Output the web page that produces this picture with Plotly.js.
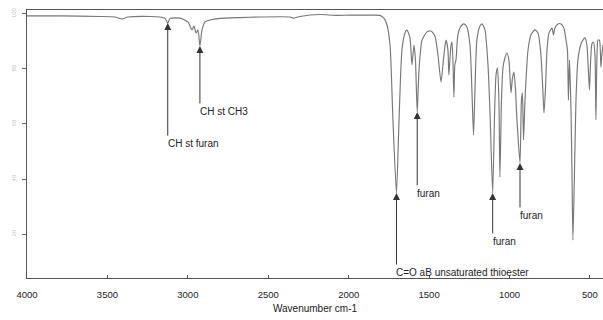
<!DOCTYPE html>
<html>
<head>
<meta charset="utf-8">
<script src="https://cdn.plot.ly/plotly-3.0.1.min.js"></script>
<style>html,body{margin:0;padding:0;background:#fff;}#chart{width:603px;height:320px;}</style>
</head>
<body>
<div id="chart"></div>
<script>
// Wavenumber (cm-1) and transmittance (%T)
const wavenumber = [4000,3795,3546,3453,3409,3372,3235,3173,3142,3125,3111,3049,3000,2974,2962,2949,2937,2925,2912,2893,2862,2800,2676,2552,2365,2346,2303,2179,2085,1992,1868,1806,1781,1762,1743,1725,1703,1687,1669,1650,1638,1619,1607,1594,1585,1574,1563,1544,1513,1488,1464,1445,1426,1408,1395,1383,1377,1364,1358,1352,1346,1340,1333,1321,1302,1283,1265,1246,1234,1224,1215,1203,1184,1171,1153,1134,1122,1105,1094,1084,1075,1066,1060,1050,1041,1029,1016,1004,991,982,973,963,954,935,926,920,913,904,885,867,842,823,805,793,786,777,767,755,736,727,718,699,680,662,649,640,634,627,618,612,606,596,587,575,556,544,531,519,510,503,497,488,478,469,463,457,450,441,432,426,419];
const transmittance = [99.3,99.3,99.1,98.9,98.2,98.9,99.1,98.9,98.4,96.7,98.4,98.5,97.1,94.2,95.6,93.1,94.2,88.4,94.2,97.1,97.8,98.4,98.7,98.9,98.9,98.5,99.1,99.8,99.5,99.6,99.6,99.5,98.5,96.0,88.7,61.5,34.9,61.5,86.9,93.1,94.2,91.3,81.5,88.7,83.3,64.4,79.6,90.5,93.5,93.8,92.0,85.1,75.3,85.1,90.5,86.9,77.8,88.7,89.8,83.3,69.8,81.5,83.3,92.4,95.6,96.4,95.3,88.7,72.4,56.0,72.4,90.5,95.6,96.4,94.2,81.5,65.1,34.9,61.5,77.8,80.4,68.7,40.7,68.7,80.4,84.0,85.8,83.3,71.3,76.7,78.9,72.4,61.5,45.8,68.7,71.3,54.2,68.7,86.9,92.4,94.2,93.1,85.1,72.4,64.0,72.4,86.9,93.1,94.9,92.4,94.9,96.4,96.4,94.9,90.5,86.9,68.7,83.3,65.1,43.3,17.8,43.3,68.7,83.3,89.1,90.5,91.3,88.7,79.6,72.4,81.5,89.1,89.8,85.1,61.5,83.3,90.5,90.5,80.7,85.1,88.7];

// Peak assignments
const labelText = ["CH st furan","CH st CH3","C=O aB unsaturated thioester","furan","furan","furan"];
const labelWavenumber = [3125,2925,1703,1574,1105,935];
const labelT = [96.7,88.4,34.9,64.4,34.9,45.8];
const labelDrop = [114,59,73,75,42,46];

const xTicks = [4000,3500,3000,2500,2000,1500,1000,500];
const yTicks = [20,40,60,80,100];

const annotations = [];
labelText.forEach((t,i)=>{
  // arrow shaft + head
  annotations.push({
    x: labelWavenumber[i], y: labelT[i], xref:'x', yref:'y',
    text: '', showarrow: true, ax: 0, ay: labelDrop[i],
    arrowhead: 2, arrowsize: 1.4, arrowwidth: 1, arrowcolor: '#333'
  });
  // label text below the shaft
  annotations.push({
    x: labelWavenumber[i], y: labelT[i], xref:'x', yref:'y',
    text: t, showarrow: false, xanchor: 'left', yanchor: 'top',
    yshift: -(labelDrop[i]), xshift: -1, borderpad: 0,
    font: {family: 'Liberation Sans, Arial, sans-serif', size: 10, color: '#222'}
  });
});

const trace = {
  x: wavenumber, y: transmittance, type: 'scatter', mode: 'lines',
  line: {color: '#777', width: 1.15, shape: 'spline', smoothing: 0.6},
  hoverinfo: 'skip'
};

const layout = {
  width: 603, height: 320,
  margin: {l: 27, r: 0, t: 10, b: 42},
  paper_bgcolor: '#fff', plot_bgcolor: '#fff',
  showlegend: false,
  font: {family: 'Liberation Sans, Arial, sans-serif', color: '#222'},
  xaxis: {
    range: [4000, 419], autorange: false,
    tickvals: xTicks, ticktext: xTicks.map(String),
    ticks: 'inside', ticklen: 3, tickcolor: '#555',
    showline: true, linecolor: '#555', linewidth: 1, mirror: true,
    showgrid: false, zeroline: false,
    tickfont: {size: 9.5, color: '#222'},
    ticklabelstandoff: 8,
    title: {text: 'Wavenumber cm-1', font: {size: 10, color: '#222'}, standoff: 5}
  },
  yaxis: {
    range: [4, 101.45], autorange: false,
    tickvals: yTicks, ticktext: yTicks.map(String),
    ticks: 'outside', ticklen: 4, tickcolor: '#666',
    showline: true, linecolor: '#555', linewidth: 1, mirror: false,
    showgrid: false, zeroline: false,
    tickangle: -90,
    tickfont: {size: 6, color: '#c4c4c4'},
    ticklabelstandoff: 4
  },
  annotations: annotations
};

Plotly.newPlot('chart', [trace], layout, {staticPlot: true, displayModeBar: false});
</script>
</body>
</html>
